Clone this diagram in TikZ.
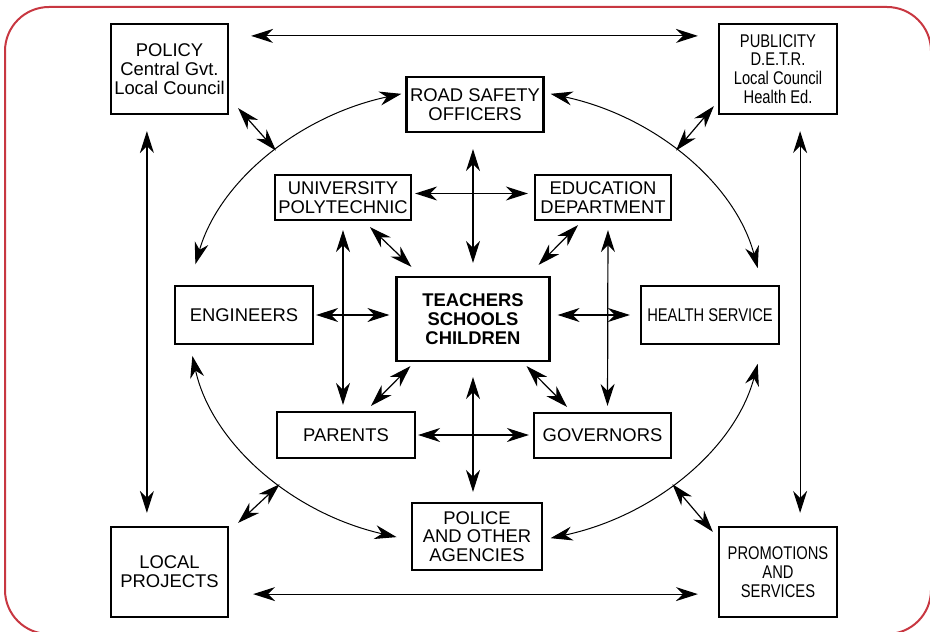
\documentclass[tikz,border=0pt]{standalone}
\usepackage{fontspec}
\setmainfont{Liberation Sans}
\newfontfamily\narrowfont[FakeStretch=0.8]{Liberation Sans}
\usepackage{tikz}
\usetikzlibrary{arrows.meta}
\definecolor{framered}{RGB}{200,55,65}
\tikzstyle{box}=[draw,line width=1.1pt,align=center,inner sep=0pt,font=\fontsize{9.2}{9.4}\selectfont]
\tikzstyle{narrowbox}=[box,font=\narrowfont\fontsize{9.2}{9.4}\selectfont]
\tikzstyle{corebox}=[box,font=\bfseries\fontsize{9.2}{9.4}\selectfont]
\tikzstyle{link}=[draw,line width=0.6pt,<->]
\tikzstyle{ring}=[draw,line width=0.5pt,<->]

\begin{document}
\begin{tikzpicture}[x=0.5pt,y=-0.5pt,>={Stealth[length=11pt,width=7pt,inset=3.5pt]}]
    \useasboundingbox (0,0) rectangle (930,631);
    \draw[framered,line width=1pt,rounded corners=22pt] (5,7) rectangle (931,634);

    \foreach \pos/\name/\sty/\bw/\bh/\txt in {
        {(169.5,69)/policy/box/58.5/45/{POLICY\\Central Gvt.\\Local Council}},
        {(778,69)/publicity/narrowbox/59/45/{PUBLICITY\\D.E.T.R.\\Local Council\\Health Ed.}},
        {(169.5,572)/localproj/box/58.5/45/{LOCAL\\PROJECTS}},
        {(778,572)/promotions/narrowbox/59/45/{PROMOTIONS\\AND\\SERVICES}},
        {(475,104.5)/roadsafety/box/68.5/27.5/{ROAD SAFETY\\OFFICERS}},
        {(343,197.5)/university/box/68/22.5/{UNIVERSITY\\POLYTECHNIC}},
        {(603,197.5)/education/box/68/22.5/{EDUCATION\\DEPARTMENT}},
        {(473,319)/teachers/corebox/76.5/42/{TEACHERS\\SCHOOLS\\CHILDREN}},
        {(244,315)/engineers/box/69/29/{ENGINEERS}},
        {(710,315)/health/narrowbox/69/29/{HEALTH SERVICE}},
        {(346,435)/parents/box/69/23/{PARENTS}},
        {(602.5,435.5)/governors/box/68.5/22.5/{GOVERNORS}},
        {(477,536.5)/police/box/65/33.5/{POLICE\\AND OTHER\\AGENCIES}}}
        \node[\sty,minimum width=\bw pt,minimum height=\bh pt] (\name) at \pos {\txt};

    % the ring
    \coordinate (ctr) at (476,316);
    \foreach \s/\e in {105/167, 190/254, 285/348, 12/75}
        \path[ring] ([shift={(\s:144pt and 115pt)}]ctr) arc[start angle=\s,end angle=\e,x radius=144pt,y radius=115pt];
    \foreach \t in {46,134,227,313}
        \coordinate (r\t) at ([shift={(\t:144pt and 115pt)}]ctr);

    % outer frame of links
    \path[link,shorten <=11pt,shorten >=10pt] ([yshift=-6.5pt]policy.north east) -- ([yshift=-6.5pt]publicity.north west);
    \path[link,shorten <=12pt,shorten >=10pt] ([yshift=12pt]localproj.south east) -- ([yshift=12pt]promotions.south west);
    \path[link,shorten <=8pt,shorten >=6.5pt] ([xshift=18.5pt]policy.south west) -- ([xshift=18.5pt]localproj.north west);
    \path[link,shorten <=8pt,shorten >=6.5pt] ([xshift=-19pt]publicity.south east) -- ([xshift=-19pt]promotions.north east);

    \path[link] ([shift={(4.5pt,3.5pt)}]policy.south east) -- (r134);
    \path[link] ([shift={(-2pt,4.5pt)}]publicity.south west) -- (r46);
    \path[link] ([shift={(4.5pt,1.5pt)}]localproj.north east) -- (r227);
    \path[link] ([shift={(-2.5pt,-3pt)}]promotions.north west) -- (r313);

    % inner cross
    \path[link,shorten <=6.5pt,shorten >=8pt] (teachers.north) -- (teachers.north |- roadsafety.south);
    \path[link,shorten <=7.5pt,shorten >=5pt] (teachers.south) -- (teachers.south |- police.north);
    \path[link,shorten <=1.5pt,shorten >=3pt] ([yshift=2pt]university.east) -- ([yshift=2pt]education.west);
    \path[link,shorten <=1pt,shorten >=2pt] (parents.east) -- (parents.east -| governors.west);
    \path[link,shorten <=4.5pt,shorten >=3pt] (university.south) -- (university.south |- parents.north);
    \path[link,shorten <=4.5pt,shorten >=3pt] ([xshift=2.5pt]education.south) -- ([xshift=2.5pt]governors.north);
    \path[link,shorten <=1pt,shorten >=3pt] (engineers.east) -- (engineers.east -| teachers.west);
    \path[link,shorten <=3.5pt,shorten >=5pt] (health.west -| teachers.east) -- (health.west);

    \path[link] ([shift={(13.5pt,-3pt)}]university.south) -- ([shift={(8pt,4.5pt)}]teachers.north west);
    \path[link] ([shift={(-12.5pt,-2pt)}]education.south) -- ([shift={(-6pt,5.5pt)}]teachers.north east);
    \path[link] ([shift={(7.5pt,-2pt)}]teachers.south west) -- ([shift={(12.5pt,2.5pt)}]parents.north);
    \path[link] ([shift={(-12pt,-2pt)}]teachers.south east) -- ([shift={(-17.75pt,2.5pt)}]governors.north);

\end{tikzpicture}
\end{document}
